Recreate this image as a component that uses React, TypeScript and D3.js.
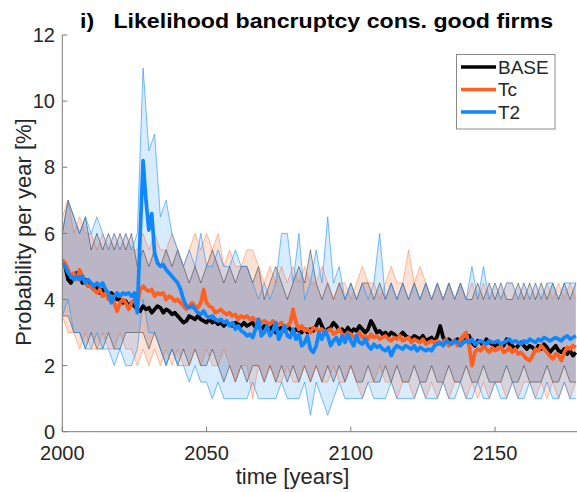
import React from 'react';
import * as d3 from 'd3';

const START_YEAR = 2000;
const BAND_STEP = 2;
const X_TICKS = [2000, 2050, 2100, 2150];
const Y_TICKS = [0, 2, 4, 6, 8, 10, 12];
const SERIES_NAMES = ['BASE', 'Tc', 'T2'];
const TITLE = 'i)   Likelihood bancruptcy cons. good firms';
const X_LABEL = 'time [years]';
const Y_LABEL = 'Probability per year [%]';

// yearly means 2000..2178
const BASE_MEAN = [
  5.1, 5.0, 4.6, 4.5, 4.7, 4.8, 4.7, 4.5, 4.6, 4.4,
  4.4, 4.3, 4.4, 4.2, 4.3, 4.2, 4.1, 4.2, 4.1, 4.0,
  4.0, 3.9, 3.95, 3.8, 3.9, 3.8, 3.7, 3.65, 3.8, 3.7,
  3.75, 3.6, 3.7, 3.8, 3.75, 3.6, 3.7, 3.65, 3.55, 3.6,
  3.5, 3.4, 3.3, 3.35, 3.5, 3.45, 3.4, 3.5, 3.4, 3.35,
  3.3, 3.4, 3.3, 3.35, 3.25, 3.3, 3.2, 3.3, 3.25, 3.2,
  3.3, 3.25, 3.2, 3.3, 3.2, 3.25, 3.3, 3.15, 3.2, 3.1,
  3.2, 3.15, 3.1, 3.2, 3.0, 3.1, 3.15, 3.05, 3.2, 3.1,
  3.0, 3.1, 3.05, 3.0, 3.1, 3.0, 3.1, 3.05, 3.2, 3.4,
  3.2, 3.0, 3.1, 3.15, 3.3, 3.2, 3.05, 3.1, 3.0, 3.15,
  3.0, 3.1, 3.05, 3.2, 3.1, 3.0, 3.1, 3.35, 3.2, 3.0,
  3.05, 2.95, 3.0, 2.9, 3.0, 2.95, 2.85, 2.9, 3.0, 2.9,
  2.85, 2.8, 2.9, 2.85, 2.8, 2.9, 2.75, 2.8, 2.85, 2.7,
  2.9, 3.2, 2.85, 2.75, 2.8, 2.7, 2.75, 2.8, 2.65, 2.7,
  2.8, 2.9, 2.7, 2.6, 2.75, 2.7, 2.6, 2.8, 2.7, 2.65,
  2.6, 2.7, 2.55, 2.6, 2.8, 2.65, 2.6, 2.5, 2.6, 2.7,
  2.6, 2.5, 2.6, 2.55, 2.45, 2.6, 2.5, 2.65, 2.55, 2.4,
  2.5, 2.6, 2.45, 2.4, 2.5, 2.35, 2.45, 2.3, 2.4,
];

const TC_MEAN = [
  5.2, 5.1, 4.9, 4.7, 4.8, 4.6, 4.9, 4.7, 4.5, 4.4,
  4.4, 4.3, 4.2, 4.3, 4.1, 4.2, 4.0, 4.1, 3.9, 3.65,
  3.9, 4.0, 3.9, 3.7, 3.9, 4.0, 3.8, 4.3, 4.4, 4.3,
  4.25, 4.3, 4.1, 4.2, 4.15, 4.2, 4.0, 4.1, 4.05, 3.95,
  4.0, 3.9, 3.8, 3.7, 3.8, 3.9, 3.8, 3.75, 3.9, 4.3,
  3.9, 3.8, 3.75, 3.6, 3.65, 3.7, 3.6, 3.55, 3.6, 3.5,
  3.55, 3.4, 3.5, 3.45, 3.5, 3.4, 3.45, 3.35, 3.4, 3.3,
  3.35, 3.3, 3.25, 3.35, 3.2, 3.25, 3.3, 3.15, 3.2, 3.3,
  3.7, 3.3, 3.1, 3.2, 3.05, 3.1, 3.0, 3.15, 3.1, 3.05,
  3.1, 3.0, 3.05, 3.1, 2.95, 3.0, 3.1, 2.95, 2.9, 3.0,
  2.95, 2.85, 2.9, 3.0, 2.85, 2.9, 2.8, 2.95, 2.85, 2.9,
  2.8, 2.85, 2.9, 2.8, 2.75, 2.85, 2.8, 2.9, 2.75, 2.8,
  2.85, 2.7, 2.8, 2.75, 2.7, 2.8, 2.65, 2.7, 2.75, 2.7,
  2.75, 2.65, 2.7, 2.8, 2.6, 2.7, 2.75, 2.6, 2.8, 2.9,
  3.0, 2.6, 2.0, 2.4, 2.5, 2.45, 2.6, 2.5, 2.4, 2.55,
  2.45, 2.5, 2.6, 2.4, 2.45, 2.55, 2.4, 2.5, 2.35, 2.4,
  2.3, 2.2, 2.15, 2.3, 2.5, 2.45, 2.6, 2.5, 2.4, 2.3,
  2.2, 2.35, 2.3, 2.15, 2.4, 2.55, 2.5, 2.6, 2.55,
];

const T2_MEAN = [
  5.1, 5.0, 4.8, 4.7, 4.6, 4.7, 4.6, 4.7, 4.5, 4.6,
  4.5, 4.4, 4.5, 4.4, 4.5, 4.3, 4.2, 3.9, 4.1, 4.2,
  4.1, 4.2, 4.15, 4.2, 4.1, 4.2, 3.6, 6.0, 8.2, 7.0,
  6.1, 6.6, 5.4, 5.1, 5.0, 5.05, 4.9, 4.8, 4.7, 4.6,
  4.5, 4.3, 4.0, 3.8, 3.75, 3.8, 3.7, 3.6, 3.55, 3.65,
  3.5, 3.45, 3.5, 3.4, 3.35, 3.4, 3.3, 3.35, 3.2, 3.3,
  3.1, 3.2, 3.05, 3.0, 2.9, 2.95, 2.85, 3.1, 3.4, 2.9,
  3.0, 3.2, 2.9, 3.05, 3.3, 2.8, 3.0, 3.2, 2.9, 2.85,
  3.1, 2.8, 2.95, 2.6, 2.7, 2.9, 2.5, 2.4, 2.6, 3.0,
  2.8, 3.05, 2.9, 2.6, 2.75, 2.85, 2.65, 2.9, 2.7, 2.95,
  2.75, 2.6, 2.9, 2.7, 2.65, 2.8, 2.6, 2.5, 2.65, 2.55,
  2.6, 2.5, 2.45, 2.55, 2.3, 2.5, 2.6, 2.55, 2.5, 2.6,
  2.55, 2.5, 2.6, 2.45, 2.55, 2.5, 2.45, 2.5, 2.45, 2.6,
  2.65, 2.7, 2.6, 2.75, 2.7, 2.65, 2.75, 2.7, 2.6, 2.7,
  2.75, 2.7, 2.8, 2.65, 2.7, 2.75, 2.7, 2.65, 2.75, 2.7,
  2.7, 2.75, 2.65, 2.7, 2.75, 2.8, 2.7, 2.75, 2.7, 2.65,
  2.75, 2.7, 2.8, 2.75, 2.7, 2.8, 2.75, 2.85, 2.8, 2.75,
  2.8, 2.85, 2.8, 2.75, 2.85, 2.9, 2.8, 2.85, 2.9,
];

// band edges every 2 years 2000..2178
const BASE_UPPER = [
  6.0, 7.0, 6.5, 6.0, 6.5, 5.5, 6.0, 5.5, 6.0, 5.5,
  6.0, 5.5, 6.0, 5.0, 5.5, 5.0, 5.5, 5.0, 5.5, 5.0,
  5.5, 5.0, 4.5, 5.0, 4.5, 5.0, 5.5, 5.0, 4.5, 5.0,
  4.5, 5.0, 5.0, 4.5, 5.0, 4.0, 4.5, 5.0, 4.5, 4.0,
  4.5, 5.0, 4.5, 5.5, 4.5, 4.0, 4.5, 4.0, 4.5, 4.0,
  4.5, 4.0, 4.5, 4.5, 4.0, 4.5, 4.0, 4.5, 4.0, 4.5,
  4.0, 4.5, 4.0, 4.5, 4.0, 4.5, 4.0, 4.5, 4.0, 4.5,
  4.0, 4.0, 4.5, 4.0, 4.5, 4.0, 4.5, 4.0, 4.0, 4.5,
  4.0, 4.5, 4.0, 4.5, 4.0, 4.5, 4.0, 4.5, 4.0, 4.5,
];
const BASE_LOWER = [
  3.5, 3.5, 3.0, 3.0, 2.5, 3.0, 2.5, 2.5, 3.0, 2.5,
  2.5, 3.0, 3.0, 3.0, 3.0, 2.5, 3.0, 2.5, 2.0, 2.5,
  2.0, 2.5, 2.0, 2.5, 2.0, 2.0, 2.5, 2.0, 1.5, 2.0,
  1.5, 2.0, 1.5, 2.0, 2.0, 1.5, 2.0, 1.5, 2.0, 1.5,
  2.0, 1.5, 2.0, 1.5, 2.0, 1.5, 2.0, 1.5, 2.0, 1.5,
  2.0, 1.5, 1.5, 2.0, 1.5, 1.5, 2.0, 1.5, 2.0, 1.5,
  1.5, 2.0, 1.5, 1.5, 2.0, 1.5, 1.5, 2.0, 1.5, 1.5,
  2.0, 1.5, 1.5, 2.0, 1.5, 1.5, 1.5, 2.0, 1.5, 1.5,
  2.0, 1.5, 1.5, 1.5, 2.0, 1.5, 1.5, 2.0, 1.5, 1.5,
];
const TC_UPPER = [
  6.5, 7.0, 6.0, 6.5, 6.0, 6.0, 5.5, 6.0, 5.5, 6.0,
  5.5, 6.0, 5.5, 5.5, 6.0, 5.5, 6.0, 5.5, 5.5, 6.0,
  5.5, 5.0, 5.5, 6.0, 5.5, 6.0, 5.5, 6.0, 5.0, 5.5,
  5.0, 5.0, 5.5, 5.5, 5.0, 4.5, 5.0, 4.5, 5.0, 4.5,
  5.0, 4.5, 5.0, 4.5, 4.5, 5.0, 4.5, 4.0, 4.5, 4.5,
  4.0, 4.5, 5.0, 4.5, 4.5, 4.0, 4.5, 5.0, 4.5, 4.5,
  5.5, 4.5, 5.0, 4.5, 4.0, 4.5, 4.0, 4.5, 4.0, 4.5,
  4.0, 4.5, 4.0, 4.5, 4.0, 4.5, 4.0, 4.5, 4.5, 4.0,
  4.5, 4.0, 4.5, 4.0, 4.5, 4.0, 4.5, 4.0, 4.5, 4.0,
];
const TC_LOWER = [
  3.5, 3.0, 3.0, 2.5, 3.0, 2.5, 2.5, 3.0, 2.5, 2.5,
  3.0, 2.5, 2.5, 2.0, 2.5, 2.0, 2.5, 2.0, 2.5, 2.0,
  2.5, 2.0, 2.0, 2.5, 2.0, 2.5, 2.0, 2.0, 2.5, 2.0,
  1.5, 2.0, 2.0, 1.0, 2.0, 1.5, 2.0, 1.5, 1.5, 2.0,
  1.5, 1.5, 2.0, 1.5, 2.0, 1.5, 1.5, 2.0, 1.5, 1.5,
  2.0, 1.5, 1.0, 1.5, 1.5, 2.0, 1.5, 1.5, 1.0, 1.5,
  1.5, 1.0, 1.5, 1.0, 1.5, 1.0, 1.5, 1.0, 1.5, 1.5,
  1.0, 1.5, 1.0, 1.5, 1.0, 1.5, 1.5, 1.0, 1.5, 1.0,
  1.5, 1.5, 1.0, 1.5, 1.0, 1.5, 1.0, 1.5, 1.0, 1.5,
];
const T2_UPPER = [
  6.0, 7.0, 6.5, 6.0, 6.5, 6.0, 6.5, 6.0, 5.5, 6.0,
  5.5, 6.0, 5.5, 6.0, 11.0, 8.5, 9.0, 6.5, 7.0, 6.0,
  5.5, 5.0, 5.5, 5.0, 6.0, 5.0, 5.0, 5.5, 5.0, 5.0,
  5.5, 5.0, 5.0, 4.5, 4.0, 4.5, 4.0, 4.5, 6.0, 6.0,
  4.5, 6.0, 4.0, 4.5, 5.5, 4.5, 6.5, 4.5, 5.0, 4.0,
  4.5, 4.0, 4.5, 4.0, 4.5, 6.0, 4.0, 4.5, 4.0, 4.5,
  4.0, 4.5, 4.0, 4.5, 4.0, 4.5, 4.0, 4.5, 4.0, 4.5,
  4.0, 5.0, 4.0, 5.0, 4.0, 4.5, 4.0, 4.5, 4.5, 4.0,
  4.5, 4.0, 4.5, 4.0, 4.5, 4.5, 4.0, 4.5, 4.5, 4.5,
];
const T2_LOWER = [
  3.5, 4.0, 3.0, 3.0, 2.5, 2.5, 3.0, 2.5, 2.5, 2.0,
  2.5, 2.0, 2.0, 2.5, 4.0, 3.0, 3.0, 2.5, 2.0, 2.5,
  2.0, 2.0, 1.5, 2.0, 1.5, 1.5, 1.0, 1.5, 1.0, 1.0,
  1.0, 1.0, 1.0, 1.5, 1.0, 1.0, 1.0, 1.0, 1.5, 1.0,
  1.0, 1.0, 1.5, 0.5, 1.5, 1.0, 0.5, 1.0, 1.5, 1.0,
  1.0, 1.0, 1.0, 1.5, 1.0, 1.0, 1.0, 1.5, 1.0, 1.0,
  1.0, 1.0, 1.5, 1.0, 1.0, 1.0, 1.5, 1.0, 1.0, 1.5,
  1.0, 1.0, 1.5, 1.0, 1.0, 1.5, 1.0, 1.0, 1.5, 1.0,
  1.0, 1.5, 1.0, 1.0, 1.5, 1.0, 1.0, 1.5, 1.0, 1.0,
];

const COLORS = ['#000000', '#ff5f1f', '#0f87ff'];
const FILLS = ['rgba(110,110,135,0.30)', 'rgba(255,110,50,0.20)', 'rgba(40,150,255,0.18)'];
const EDGES = ['rgba(0,0,0,0.5)', 'rgba(255,95,31,0.5)', 'rgba(30,145,250,0.75)'];

const W = 577;
const H = 492;

export default function App() {
  const x = d3.scaleLinear().domain([2000, 2180]).range([62.3, 581.6]);
  const y = d3.scaleLinear().domain([0, 12]).range([431.7, 35]);
  const x0 = x(2000);
  const y0 = y(0);

  const means = [BASE_MEAN, TC_MEAN, T2_MEAN];
  const uppers = [BASE_UPPER, TC_UPPER, T2_UPPER];
  const lowers = [BASE_LOWER, TC_LOWER, T2_LOWER];

  type P = { t: number; v: number };
  type B = { t: number; lo: number; hi: number };

  const line = d3.line<P>().x(d => x(d.t)).y(d => y(d.v));
  const area = d3.area<B>().x(d => x(d.t)).y0(d => y(d.lo)).y1(d => y(d.hi));

  const meanPts = means.map(arr => arr.map((v, i) => ({ t: START_YEAR + i, v })));
  const bandPts = uppers.map((up, k) => up.map((hi, i) => ({ t: START_YEAR + i * BAND_STEP, hi, lo: lowers[k][i] })));

  const font = "'Liberation Sans', Arial, Helvetica, sans-serif";
  const axisColor = '#7a7a7a';
  const textColor = '#262626';

  return (
    <svg width={W} height={H} style={{ position: 'absolute', left: 0, top: 0, background: '#fff' }} fontFamily={font}>
      <defs>
        <clipPath id="plotclip">
          <rect x={x0} y={0} width={W - x0} height={y0} />
        </clipPath>
      </defs>
      <rect x={0} y={0} width={W} height={H} fill="#fff" />
      <g clipPath="url(#plotclip)">
        {bandPts.map((b, k) => (
          <path key={'f' + k} d={area(b) || ''} fill={FILLS[k]} stroke="none" />
        ))}
        {bandPts.map((b, k) => (
          <g key={'e' + k}>
            <path d={line(b.map(d => ({ t: d.t, v: d.hi }))) || ''} fill="none" stroke={EDGES[k]} strokeWidth={0.8} />
            <path d={line(b.map(d => ({ t: d.t, v: d.lo }))) || ''} fill="none" stroke={EDGES[k]} strokeWidth={0.8} />
          </g>
        ))}
        {meanPts.map((m, k) => (
          <path key={'m' + k} d={line(m) || ''} fill="none" stroke={COLORS[k]} strokeWidth={3.7} strokeLinejoin="round" />
        ))}
      </g>
      {/* axes */}
      <line x1={x0} y1={y(12)} x2={x0} y2={y0} stroke={axisColor} strokeWidth={1} />
      <line x1={x0} y1={y0} x2={W} y2={y0} stroke={axisColor} strokeWidth={1} />
      {Y_TICKS.map(t => (
        <g key={'yt' + t}>
          <line x1={x0} x2={x0 + 5} y1={y(t)} y2={y(t)} stroke={axisColor} strokeWidth={1} />
          <text x={55} y={y(t)} dy="0.36em" textAnchor="end" fontSize={20} fill={textColor}>{t}</text>
        </g>
      ))}
      {X_TICKS.map(t => (
        <g key={'xt' + t}>
          <line x1={x(t)} x2={x(t)} y1={y0} y2={y0 - 5} stroke={axisColor} strokeWidth={1} />
          <text x={x(t)} y={459.5} textAnchor="middle" fontSize={20} fill={textColor}>{t}</text>
        </g>
      ))}
      <text x={292.5} y={484} textAnchor="middle" fontSize={22} fill={textColor}>{X_LABEL}</text>
      <text transform={`translate(31,232) rotate(-90)`} textAnchor="middle" fontSize={22} fill={textColor}>{Y_LABEL}</text>
      <text x={80} y={28} fontSize={21} fontWeight="bold" fill="#000" textLength={473} lengthAdjust="spacingAndGlyphs" style={{ whiteSpace: 'pre' }}>{TITLE}</text>
      {/* legend */}
      <rect x={456.5} y={54.5} width={98.5} height={74.5} fill="#fff" stroke="#8a8a8a" strokeWidth={1} />
      {SERIES_NAMES.map((n, k) => {
        const ly = 67 + k * 22.5;
        return (
          <g key={'lg' + k}>
            <line x1={461} x2={496} y1={ly} y2={ly} stroke={COLORS[k]} strokeWidth={3.4} />
            <text x={498} y={ly} dy="0.36em" fontSize={19} fill={textColor}>{n}</text>
          </g>
        );
      })}
    </svg>
  );
}
